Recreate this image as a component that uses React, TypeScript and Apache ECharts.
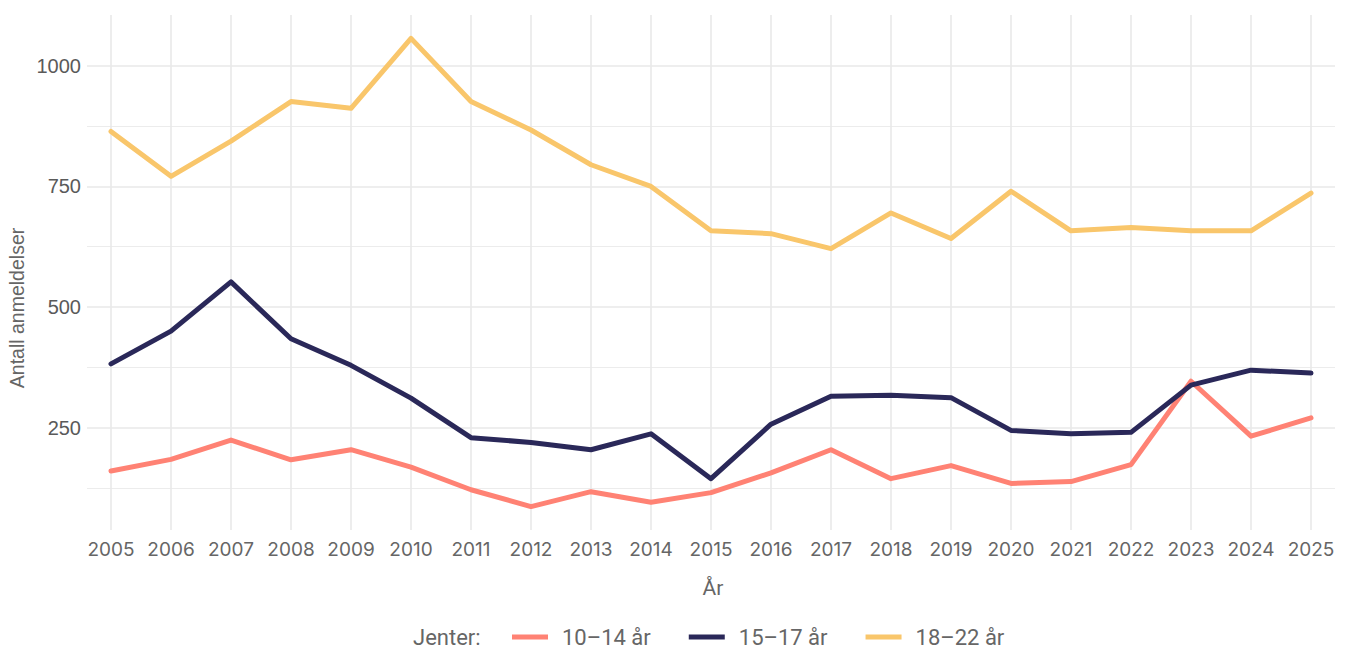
import React, { useEffect, useRef } from "react";
import * as echarts from "echarts";

const years = [2005, 2006, 2007, 2008, 2009, 2010, 2011, 2012, 2013, 2014, 2015, 2016, 2017, 2018, 2019, 2020, 2021, 2022, 2023, 2024, 2025];
const girls10to14 = [160, 184, 224, 183, 204, 168, 121, 86, 117, 95, 115, 156, 204, 144, 171, 134, 138, 173, 346, 232, 270];
const girls15to17 = [382, 450, 552, 434, 379, 311, 229, 219, 204, 237, 144, 257, 315, 317, 312, 244, 237, 240, 338, 369, 363];
const girls18to22 = [864, 771, 844, 926, 912, 1057, 926, 867, 795, 750, 658, 652, 621, 695, 642, 740, 658, 665, 658, 658, 736];
const seriesNames = ["10–14 år", "15–17 år", "18–22 år"];
const seriesColors = ["#FF8274", "#2A2859", "#F9C66B"];
const majorYTicks = [250, 500, 750, 1000];
const minorYTicks = [125, 375, 625, 875];

export default function App() {
  const ref = useRef<HTMLDivElement>(null);
  useEffect(() => {
    if (!ref.current) return;
    const chart = echarts.init(ref.current, null, { renderer: "svg" });
    const allSeries = [girls10to14, girls15to17, girls18to22];
    chart.setOption({
      animation: false,
      backgroundColor: "#ffffff",
      grid: { left: 87, right: 19, top: 15, bottom: 118, containLabel: false },
      xAxis: {
        type: "value",
        min: 2004.6,
        max: 2025.4,
        axisLine: { show: false },
        axisTick: { show: false, customValues: years },
        axisLabel: {
          customValues: years,
          margin: 10,
          color: "#666666",
          fontFamily: "Inter",
          fontSize: 19,
          formatter: (v: number) => String(v),
        },
        splitLine: { show: true, lineStyle: { color: "#e9e9e9", width: 1.6 } },
      },
      yAxis: [
        {
          type: "value",
          min: 37.5,
          max: 1105.5,
          axisLine: { show: false },
          axisTick: { show: false, customValues: majorYTicks },
          axisLabel: {
            customValues: majorYTicks,
            margin: 6,
            color: "#5a5a5a",
            fontFamily: "Liberation Sans",
            fontSize: 20,
            formatter: (v: number) => String(v),
          },
          splitLine: { show: true, lineStyle: { color: "#e9e9e9", width: 1.6 } },
        },
        {
          type: "value",
          min: 37.5,
          max: 1105.5,
          position: "left",
          axisLine: { show: false },
          axisTick: { show: false, customValues: minorYTicks },
          axisLabel: { show: false, customValues: minorYTicks },
          splitLine: { show: true, lineStyle: { color: "#ececec", width: 1.2 } },
        },
      ],
      legend: {
        left: 507,
        top: 621,
        padding: 5,
        itemWidth: 36,
        itemHeight: 5,
        itemGap: 38,
        icon: "rect",
        textStyle: {
          color: "#666666",
          fontFamily: "Roboto",
          fontSize: 22,
          lineHeight: 22,
          padding: [0, 0, 0, 9],
        },
        data: seriesNames,
      },
      graphic: [
        {
          type: "text",
          x: 413,
          y: 637,
          style: {
            text: "Jenter:",
            fill: "#666666",
            font: '22px "Roboto"',
            verticalAlign: "middle",
          },
        },
        {
          type: "text",
          x: 713,
          y: 588,
          style: {
            text: "År",
            fill: "#666666",
            font: '21px "Roboto"',
            align: "center",
            verticalAlign: "middle",
          },
        },
        {
          type: "text",
          x: 17,
          y: 308,
          rotation: Math.PI / 2,
          style: {
            text: "Antall anmeldelser",
            fill: "#666666",
            font: '19.5px "Liberation Sans"',
            align: "center",
            verticalAlign: "middle",
          },
        },
      ],
      series: allSeries.map((vals, i) => ({
        name: seriesNames[i],
        type: "line",
        showSymbol: false,
        symbol: "none",
        color: seriesColors[i],
        lineStyle: { width: 5, color: seriesColors[i], cap: "round", join: "round" },
        data: years.map((y, j) => [y, vals[j]]),
      })),
    });
    return () => chart.dispose();
  }, []);
  return <div ref={ref} style={{ width: 1354, height: 648, position: "absolute", left: 0, top: 0 }} />;
}
